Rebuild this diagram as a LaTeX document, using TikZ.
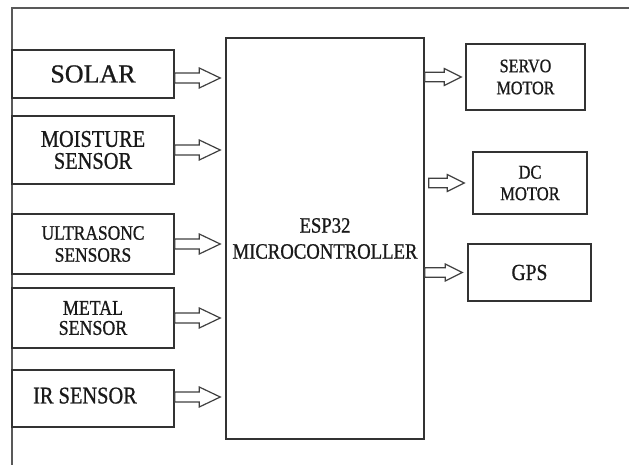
\documentclass[tikz,border=0pt]{standalone}
\usepackage{fontspec}
\setmainfont{Liberation Serif}[FakeBold=0.8]
\newfontfamily\sqz{Liberation Serif}[FakeStretch=0.85,FakeBold=0.8]
\usetikzlibrary{calc}
% #1 start, #2 end, #3 head length, #4 shaft half width, #5 head half width
\newcommand\blockarr[5]{%
  \draw[barrow] let \p1=#1, \p2=#2 in
    (\x1,\y1+#4) -- (\x2-#3,\y1+#4) -- (\x2-#3,\y1+#5) -- (\x2,\y1)
    -- (\x2-#3,\y1-#5) -- (\x2-#3,\y1-#4) -- (\x1,\y1-#4) -- cycle;}
\begin{document}
\begin{tikzpicture}[x=1pt,y=-1pt,
  box/.style={draw=black!80, line width=1.5pt, inner sep=0pt, align=center, text=black!90},
  barrow/.style={draw=black!75, line width=1.2pt, fill=white, line join=miter}]
\useasboundingbox (0,0) rectangle (629,465);
\fill[white] (0,0) rectangle (629,465);
\draw[black!65, line width=1.2pt] (12,465) -- (12,8) -- (629,8);

% left column
\node[box, minimum width=162pt, minimum height=48pt, font=\fontsize{26}{28}\selectfont] (solar) at (93,74) {SOLAR};
\node[box, minimum width=162pt, minimum height=68pt, font=\sqz\fontsize{24}{22}\selectfont] (moist) at (93,150) {MOISTURE\\SENSOR};
\node[box, minimum width=162pt, minimum height=60pt, font=\sqz\fontsize{20.5}{22}\selectfont] (ultra) at (93,244) {ULTRASONC\\SENSORS};
\node[box, minimum width=162pt, minimum height=60pt, font=\sqz\fontsize{21}{20}\selectfont] (metal) at (93,318) {METAL\\SENSOR};
\node[box, minimum width=162pt, minimum height=57pt, font=\sqz\fontsize{24}{26}\selectfont] (ir) at (93,398.5) {\raisebox{6pt}{\hspace*{-16pt}IR SENSOR}};

% controller
\node[box, minimum width=198pt, minimum height=401pt, font=\sqz\fontsize{22}{26}\selectfont] (esp) at (325,238.5) {ESP32\\MICROCONTROLLER};

% right column
\node[box, minimum width=119pt, minimum height=66pt, font=\sqz\fontsize{19}{22}\selectfont] (servo) at (525.5,77) {SERVO\\MOTOR};
\node[box, minimum width=114pt, minimum height=62pt, font=\sqz\fontsize{19.5}{21.5}\selectfont] (dc) at (530,183) {DC\\MOTOR};
\node[box, minimum width=123pt, minimum height=57pt, font=\sqz\fontsize{23}{26}\selectfont] (gps) at (529.5,272.5) {GPS};

% input arrows
\blockarr{($(solar.east)+(0,4)$)}{($(esp.west)+(-5,0)$)}{21pt}{5pt}{10pt}
\blockarr{(moist.east)}{($(esp.west)+(-5,0)$)}{21pt}{5pt}{10pt}
\blockarr{(ultra.east)}{($(esp.west)+(-5,0)$)}{21pt}{5pt}{10pt}
\blockarr{(metal.east)}{($(esp.west)+(-5,0)$)}{21pt}{5pt}{10pt}
\blockarr{($(ir.east)+(0,-1.5)$)}{($(esp.west)+(-5,0)$)}{21pt}{5pt}{10pt}

% output arrows
\blockarr{(esp.east |- servo.west)}{($(servo.west)+(-4,0)$)}{17pt}{4.7pt}{8.5pt}
\blockarr{($(esp.east |- dc.west)+(4,0)$)}{($(dc.west)+(-8,0)$)}{17pt}{4.7pt}{8.5pt}
\blockarr{(esp.east |- gps.west)}{($(gps.west)+(-5,0)$)}{17pt}{4.7pt}{8.5pt}
\end{tikzpicture}
\end{document}
